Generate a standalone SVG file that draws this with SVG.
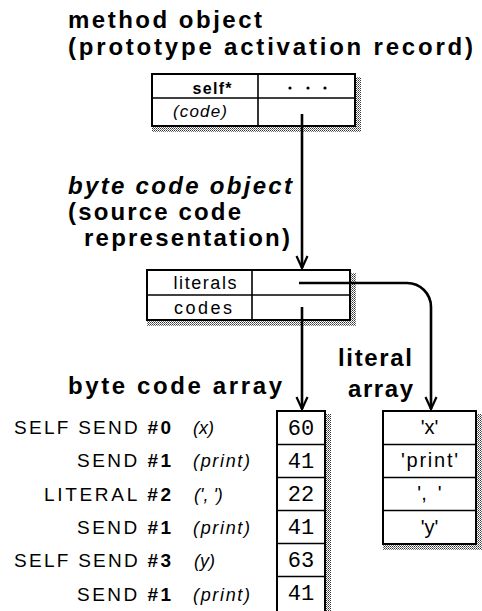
<svg xmlns="http://www.w3.org/2000/svg" width="482" height="611" viewBox="0 0 482 611">
<style>
.t{font-family:"Liberation Sans",Arial,sans-serif;fill:#000}
.h{font-size:24px;font-weight:bold}
.hi{font-size:24px;font-weight:bold;font-style:italic}
.l{font-size:19px}
.it{font-size:18px;font-style:italic}
.c{font-size:18px}
.m{font-family:"Liberation Mono","Courier New",monospace;font-size:22px;fill:#000}
.box{fill:#fff;stroke:#000;stroke-width:2}
.div{stroke:#000;stroke-width:1.6;fill:none}
.sh{fill:url(#dots)}
.conn{stroke:#000;fill:none;stroke-width:2.6}
</style>
<defs>
<pattern id="dots" width="2" height="2" patternUnits="userSpaceOnUse">
<rect width="2" height="2" fill="#fff"/>
<rect width="1" height="1" fill="#333"/>
<rect x="1" y="1" width="1" height="1" fill="#777"/>
</pattern>
<marker id="arr" markerUnits="userSpaceOnUse" markerWidth="16" markerHeight="16" refX="13" refY="8" orient="auto" viewBox="0 0 16 16">
<path d="M1,2.5 L13,8 L1,13.5" fill="none" stroke="#000" stroke-width="2.2"/>
</marker>
</defs>
<rect width="482" height="611" fill="#fff"/>

<g id="title-method">
<text class="t h" x="68" y="28" textLength="194" lengthAdjust="spacing">method object</text>
<text class="t h" x="68" y="55" textLength="405" lengthAdjust="spacing">(prototype activation record)</text>
</g>

<g id="method-object">
<rect class="sh" x="355" y="77" width="6" height="55"/>
<rect class="sh" x="152" y="126" width="209" height="6"/>
<rect class="box" x="152" y="74" width="203" height="52"/>
<line class="div" x1="152" y1="98" x2="355" y2="98"/>
<line class="div" x1="258" y1="74" x2="258" y2="126"/>
<text class="t" x="212" y="94" font-size="16" font-weight="bold" text-anchor="middle" textLength="39" lengthAdjust="spacing">self*</text>
<text class="t" x="200" y="117" font-size="17" font-style="italic" text-anchor="middle" textLength="54" lengthAdjust="spacing">(code)</text>
<circle cx="290" cy="88" r="1.6"/>
<circle cx="308" cy="88" r="1.6"/>
<circle cx="325" cy="88" r="1.6"/>
</g>

<g id="title-bytecode-object">
<text class="t hi" x="68" y="194" textLength="224" lengthAdjust="spacing">byte code object</text>
<text class="t h" x="68" y="220" textLength="173" lengthAdjust="spacing">(source code</text>
<text class="t h" x="84" y="246" textLength="206" lengthAdjust="spacing">representation)</text>
</g>

<g id="bytecode-object">
<rect class="sh" x="350" y="273" width="6" height="53"/>
<rect class="sh" x="147" y="320" width="209" height="6"/>
<rect class="box" x="147" y="270" width="203" height="50"/>
<line class="div" x1="147" y1="295" x2="350" y2="295"/>
<line class="div" x1="252" y1="270" x2="252" y2="320"/>
<text class="t c" x="205" y="289" text-anchor="middle" textLength="63" lengthAdjust="spacing">literals</text>
<text class="t c" x="203" y="314" text-anchor="middle" textLength="58" lengthAdjust="spacing">codes</text>
</g>

<g id="title-bytecode-array">
<text class="t h" x="68" y="394" textLength="214" lengthAdjust="spacing">byte code array</text>
</g>

<g id="title-literal-array">
<text class="t h" x="338" y="366" textLength="74" lengthAdjust="spacing">literal</text>
<text class="t h" x="348" y="397" textLength="65" lengthAdjust="spacing">array</text>
</g>

<g id="bytecode-array">
<rect class="sh" x="325" y="414" width="6" height="200"/>
<rect class="box" x="277" y="411" width="48" height="201"/>
<line class="div" x1="277" y1="444.5" x2="325" y2="444.5"/>
<line class="div" x1="277" y1="477.5" x2="325" y2="477.5"/>
<line class="div" x1="277" y1="510.5" x2="325" y2="510.5"/>
<line class="div" x1="277" y1="543.5" x2="325" y2="543.5"/>
<line class="div" x1="277" y1="576.5" x2="325" y2="576.5"/>
<text class="m" x="301" y="435" text-anchor="middle">60</text>
<text class="m" x="301" y="468" text-anchor="middle">41</text>
<text class="m" x="301" y="501" text-anchor="middle">22</text>
<text class="m" x="301" y="534" text-anchor="middle">41</text>
<text class="m" x="301" y="567" text-anchor="middle">63</text>
<text class="m" x="301" y="600" text-anchor="middle">41</text>
</g>

<g id="bytecode-labels">
<text class="t l" x="171" y="434" text-anchor="end" textLength="157" lengthAdjust="spacing">SELF SEND <tspan font-weight="bold">#0</tspan></text>
<text class="t l" x="171" y="467" text-anchor="end" textLength="94" lengthAdjust="spacing">SEND <tspan font-weight="bold">#1</tspan></text>
<text class="t l" x="171" y="501" text-anchor="end" textLength="127" lengthAdjust="spacing">LITERAL <tspan font-weight="bold">#2</tspan></text>
<text class="t l" x="171" y="534" text-anchor="end" textLength="94" lengthAdjust="spacing">SEND <tspan font-weight="bold">#1</tspan></text>
<text class="t l" x="171" y="567" text-anchor="end" textLength="157" lengthAdjust="spacing">SELF SEND <tspan font-weight="bold">#3</tspan></text>
<text class="t l" x="171" y="601" text-anchor="end" textLength="94" lengthAdjust="spacing">SEND <tspan font-weight="bold">#1</tspan></text>
<text class="t it" x="193" y="434">(x)</text>
<text class="t it" x="193" y="467" textLength="57" lengthAdjust="spacing">(print)</text>
<text class="t it" x="194" y="501">(', ')</text>
<text class="t it" x="193" y="534" textLength="57" lengthAdjust="spacing">(print)</text>
<text class="t it" x="194" y="567">(y)</text>
<text class="t it" x="193" y="601" textLength="57" lengthAdjust="spacing">(print)</text>
</g>

<g id="literal-array">
<rect class="sh" x="476" y="414" width="6" height="136"/>
<rect class="sh" x="383" y="544" width="99" height="6"/>
<rect class="box" x="383" y="411" width="93" height="133"/>
<line class="div" x1="383" y1="444.5" x2="476" y2="444.5"/>
<line class="div" x1="383" y1="477.5" x2="476" y2="477.5"/>
<line class="div" x1="383" y1="510.5" x2="476" y2="510.5"/>
<text class="t" font-size="20" x="429.5" y="434" text-anchor="middle">'x'</text>
<text class="t" font-size="20" x="429.5" y="467" text-anchor="middle" textLength="57" lengthAdjust="spacing">'print'</text>
<text class="t" font-size="20" x="429.5" y="500" text-anchor="middle" xml:space="preserve">',  '</text>
<text class="t" font-size="20" x="429.5" y="534" text-anchor="middle">'y'</text>
</g>

<g id="connectors">
<path class="conn" d="M302,114 V268" marker-end="url(#arr)"/>
<path class="conn" d="M302,307 V409" marker-end="url(#arr)"/>
<path class="conn" d="M299,283 H407 A24,24 0 0 1 431,307 V409" stroke-width="3" marker-end="url(#arr)"/>
</g>
</svg>
